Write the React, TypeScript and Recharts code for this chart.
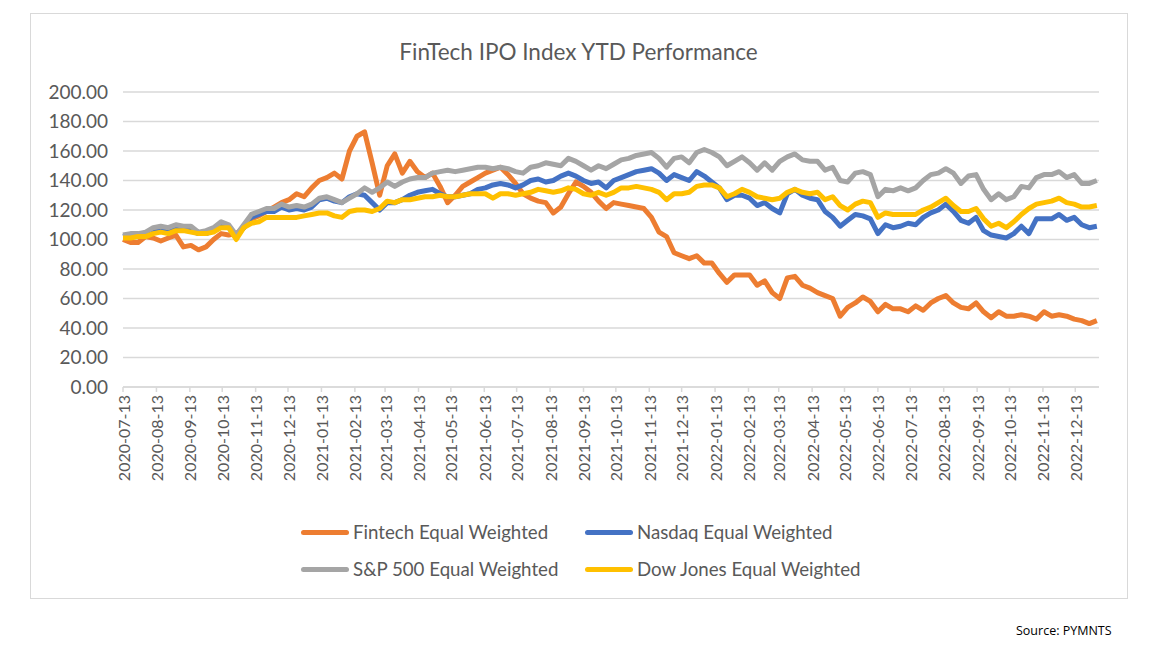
import React from 'react';
import { LineChart, Line, XAxis, YAxis, CartesianGrid } from 'recharts';

// weekly closes (index = 100 at start)
const START_DATE = '2020-07-13';
const DAY_MS = 86400000;

const TICK_LABELS = [
  '2020-07-13', '2020-08-13', '2020-09-13', '2020-10-13', '2020-11-13', '2020-12-13',
  '2021-01-13', '2021-02-13', '2021-03-13', '2021-04-13', '2021-05-13', '2021-06-13',
  '2021-07-13', '2021-08-13', '2021-09-13', '2021-10-13', '2021-11-13', '2021-12-13',
  '2022-01-13', '2022-02-13', '2022-03-13', '2022-04-13', '2022-05-13', '2022-06-13',
  '2022-07-13', '2022-08-13', '2022-09-13', '2022-10-13', '2022-11-13', '2022-12-13',
];

const Y_TICKS = [0, 20, 40, 60, 80, 100, 120, 140, 160, 180, 200];

const FINTECH = [
  100, 98, 98, 102, 101, 99, 101, 103, 95, 96,
  93, 95, 100, 104, 103, 104, 108, 114, 116, 119,
  122, 125, 127, 131, 129, 135, 140, 142, 145, 141,
  160, 170, 173, 152, 130, 150, 158, 145, 153, 146,
  142, 145, 136, 125, 130, 136, 139, 142, 145, 147,
  149, 144, 138, 131, 128, 126, 125, 118, 122, 131,
  139, 136, 132, 126, 121, 125, 124, 123, 122, 121,
  115, 105, 102, 91, 89, 87, 89, 84, 84, 77,
  71, 76, 76, 76, 69, 72, 64, 60, 74, 75,
  69, 67, 64, 62, 60, 48, 54, 57, 61, 58,
  51, 56, 53, 53, 51, 55, 52, 57, 60, 62,
  57, 54, 53, 57, 51, 47, 51, 48, 48, 49,
  48, 46, 51, 48, 49, 48, 46, 45, 43, 45,
];

const NASDAQ = [
  102, 103, 103, 104, 106, 107, 106, 108, 107, 106,
  104, 104, 106, 110, 108, 102, 108, 115, 117, 119,
  119, 122, 120, 121, 120, 122, 127, 128, 126, 125,
  129, 131, 130, 125, 120, 125, 125, 127, 130, 132,
  133, 134, 131, 129, 129, 130, 131, 134, 135, 137,
  138, 137, 135, 137, 140, 141, 139, 140, 143, 145,
  143, 140, 138, 139, 135, 140, 142, 144, 146, 147,
  148, 145, 140, 144, 142, 140, 146, 143, 139, 135,
  127, 130, 130, 128, 123, 125, 121, 118, 131, 134,
  130, 128, 127, 119, 115, 109, 113, 117, 116, 114,
  104, 110, 108, 109, 111, 110, 115, 118, 120, 124,
  119, 113, 111, 115, 106, 103, 102, 101, 104, 109,
  104, 114, 114, 114, 117, 113, 115, 110, 108, 109,
];

const SP500 = [
  103, 104, 104, 105, 108, 109, 108, 110, 109, 109,
  105, 106, 108, 112, 110, 103, 110, 117, 119, 121,
  121, 124, 122, 123, 122, 124, 128, 129, 127, 125,
  128, 131, 135, 132, 135, 139, 136, 139, 141, 142,
  142, 145, 146, 147, 146, 147, 148, 149, 149, 148,
  149, 148, 146, 145, 149, 150, 152, 151, 150, 155,
  153, 150, 147, 150, 148, 151, 154, 155, 157, 158,
  159, 155, 149, 155, 156, 152, 159, 161, 159, 156,
  150, 153, 156, 152, 147, 152, 147, 153, 156, 158,
  154, 153, 153, 147, 149, 140, 139, 145, 146, 144,
  129, 134, 133, 135, 133, 135, 140, 144, 145, 148,
  145, 138, 143, 144, 134, 127, 131, 127, 129, 136,
  135, 142, 144, 144, 146, 142, 144, 138, 138, 140,
];

const DOW = [
  101, 101, 102, 102, 104, 105, 104, 106, 106, 105,
  104, 104, 105, 108, 108, 100, 108, 111, 112, 115,
  115, 115, 115, 115, 116, 117, 118, 118, 116, 115,
  119, 120, 120, 119, 121, 126, 125, 127, 127, 128,
  129, 129, 130, 129, 129, 130, 131, 131, 131, 128,
  131, 131, 130, 131, 132, 134, 133, 132, 133, 135,
  134, 131, 130, 132, 130, 132, 135, 135, 136, 135,
  134, 132, 127, 131, 131, 132, 136, 137, 137, 135,
  129, 131, 134, 132, 129, 128, 127, 128, 132, 134,
  132, 131, 132, 127, 129, 123, 120, 124, 126, 125,
  115, 118, 117, 117, 117, 117, 120, 122, 125, 128,
  123, 119, 119, 121, 114, 109, 111, 108, 112, 117,
  121, 124, 125, 126, 128, 125, 124, 122, 122, 123,
];

const SERIES = [
  { key: 'fintech', name: 'Fintech Equal Weighted', color: '#ED7D31', values: FINTECH },
  { key: 'nasdaq', name: 'Nasdaq Equal Weighted', color: '#4472C4', values: NASDAQ },
  { key: 'sp500', name: 'S&P 500 Equal Weighted', color: '#A5A5A5', values: SP500 },
  { key: 'dow', name: 'Dow Jones Equal Weighted', color: '#FFC000', values: DOW },
];

const t0 = Date.parse(START_DATE);
const chartData = FINTECH.map((_, i) => {
  const row: Record<string, number> = { t: t0 + i * 7 * DAY_MS };
  SERIES.forEach(s => { row[s.key] = s.values[i]; });
  return row;
});
const xTicks = TICK_LABELS.map(d => Date.parse(d));
const xDomain = [t0, t0 + 905 * DAY_MS];

const TEXT = '#595959';
const FONT = 'Lato, sans-serif';

const fmtDate = (v: number) => new Date(v).toISOString().slice(0, 10);

const DateTick = (props: any) => {
  const { x, y, payload } = props;
  return (
    <text
      x={x}
      y={y + 1}
      transform={`rotate(-90, ${x}, ${y + 1})`}
      textAnchor="end"
      dominantBaseline="central"
      fill={TEXT}
      fontSize={16}
      fontFamily={FONT}
    >
      {fmtDate(payload.value)}
    </text>
  );
};

export default function App() {
  return (
    <div style={{ position: 'absolute', left: 0, top: 0, width: 1151, height: 645, background: '#fff', fontFamily: FONT }}>
      <div style={{
        position: 'absolute', left: 30, top: 13, width: 1096, height: 584,
        border: '1.5px solid #d9d9d9',
      }} />
      <div style={{
        position: 'absolute', left: 30, top: 38, width: 1097, textAlign: 'center',
        fontSize: 22.5, color: TEXT,
      }}>
        FinTech IPO Index YTD Performance
      </div>

      <div style={{ position: 'absolute', left: 0, top: 0 }}>
        <LineChart
          width={1151}
          height={600}
          data={chartData}
          margin={{ top: 92, right: 52, left: 43, bottom: 113 }}
        >
          <CartesianGrid vertical={false} stroke="#d9d9d9" strokeWidth={1.5} />
          <XAxis
            dataKey="t"
            type="number"
            scale="time"
            domain={xDomain}
            ticks={xTicks}
            interval={0}
            tick={<DateTick />}
            tickSize={5}
            height={100}
            axisLine={{ stroke: '#d9d9d9', strokeWidth: 1.5 }}
            tickLine={{ stroke: '#d9d9d9', strokeWidth: 1.5 }}
          />
          <YAxis
            domain={[0, 200]}
            ticks={Y_TICKS}
            tickFormatter={(v: number) => v.toFixed(2)}
            tick={{ fill: TEXT, fontSize: 19, fontFamily: FONT }}
            axisLine={false}
            tickLine={false}
            tickMargin={9}
            width={80}
            interval={0}
          />
          {SERIES.map(s => (
            <Line
              key={s.key}
              type="linear"
              dataKey={s.key}
              name={s.name}
              stroke={s.color}
              strokeWidth={5}
              dot={false}
              strokeLinejoin="round"
              isAnimationActive={false}
            />
          ))}
        </LineChart>
      </div>

      <div style={{
        position: 'absolute', left: 301, top: 514, display: 'grid',
        gridTemplateColumns: '284px 300px', fontSize: 18.7, color: TEXT, lineHeight: '37px',
      }}>
        {SERIES.map(s => (
          <div key={s.key} style={{ display: 'flex', alignItems: 'center', whiteSpace: 'nowrap' }}>
            <span style={{ display: 'inline-block', width: 48, height: 5, borderRadius: 2.5, background: s.color, marginRight: 4 }} />
            {s.name}
          </div>
        ))}
      </div>

      <div style={{ position: 'absolute', left: 1016, top: 622, fontSize: 12.5, color: '#000', fontFamily: 'Open Sans, sans-serif' }}>
        Source: PYMNTS
      </div>
    </div>
  );
}
